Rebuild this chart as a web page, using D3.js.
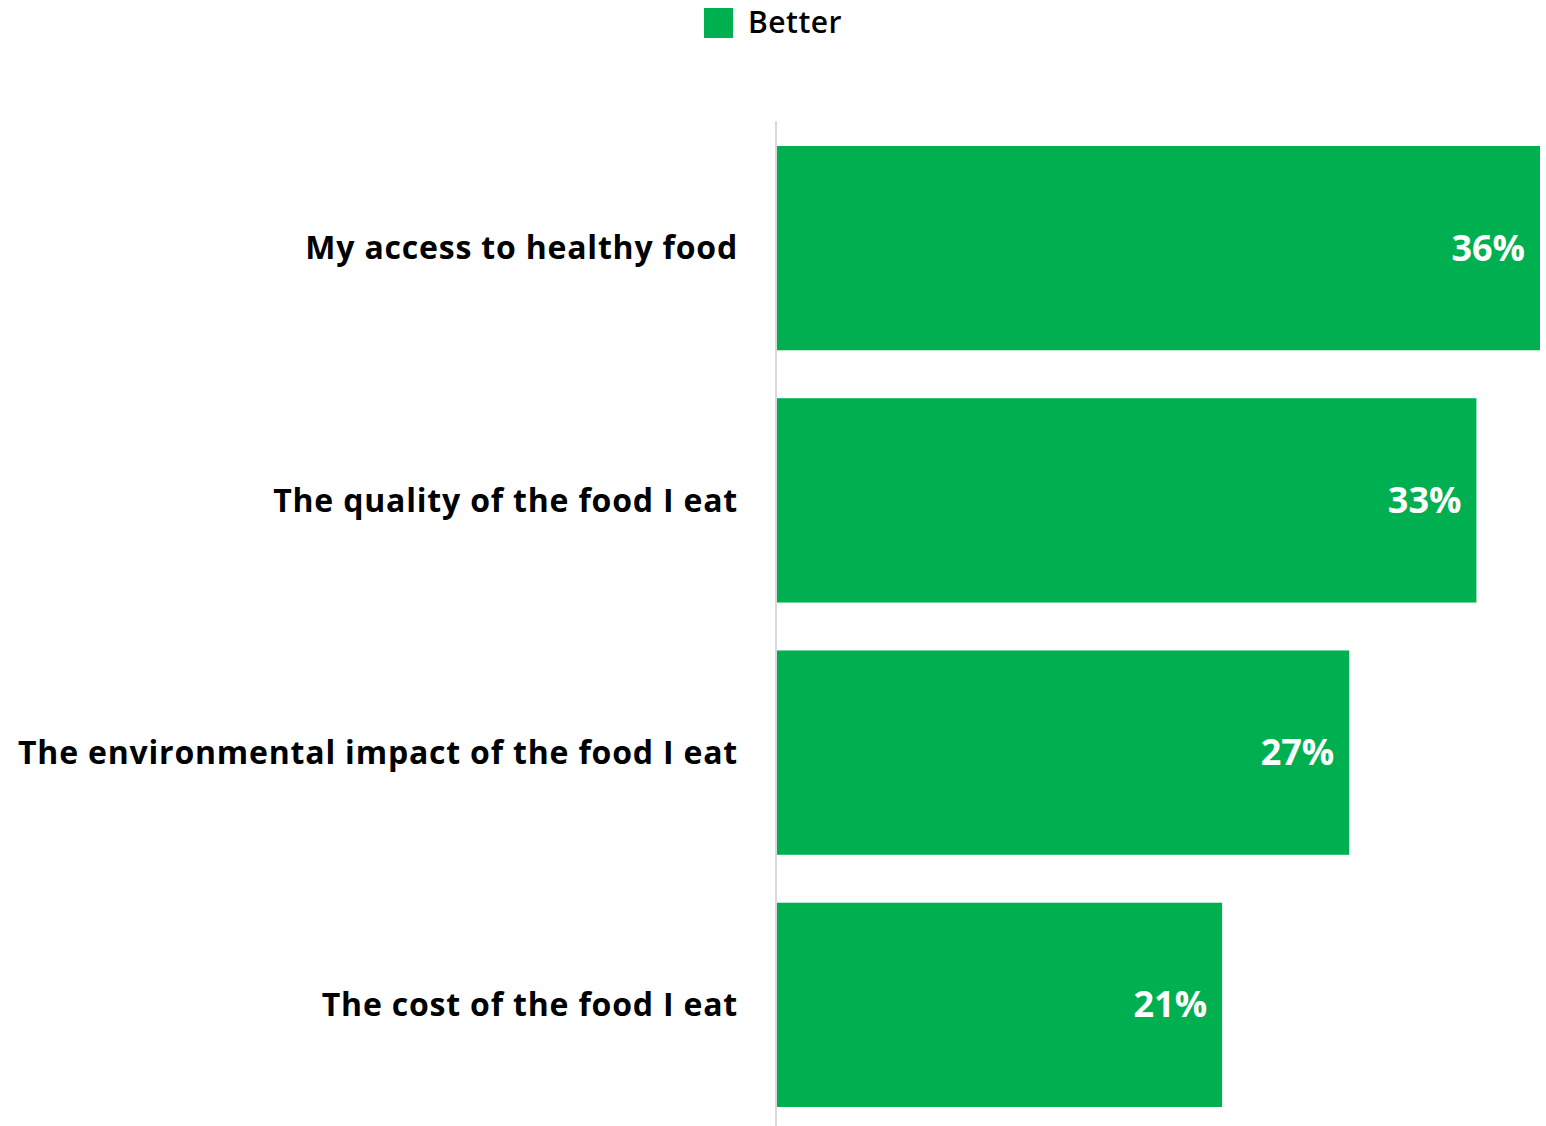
<!DOCTYPE html>
<html>
<head>
<meta charset="utf-8">
<script src="https://cdn.jsdelivr.net/npm/d3@7"></script>
<style>
  body { margin: 0; background: #fff; }
  svg { display: block; font-family: "Segoe UI", "Open Sans", "Noto Sans", sans-serif; }
</style>
</head>
<body>
<svg id="chart" width="1546" height="1126"></svg>
<script>
var categories = [
  'My access to healthy food',
  'The quality of the food I eat',
  'The environmental impact of the food I eat',
  'The cost of the food I eat'
];
var better = [36, 33, 27, 21];
var seriesName = 'Better';
var color = '#00B050';

var svg = d3.select('#chart');

var x = d3.scaleLinear()
  .domain([0, 36])
  .range([777, 1540]);

var y = d3.scaleBand()
  .domain(categories)
  .range([122, 1131])
  .paddingInner(0.19)
  .paddingOuter(0.095);

// axis line
svg.append('line')
  .attr('x1', 776).attr('x2', 776)
  .attr('y1', 121).attr('y2', 1126)
  .attr('stroke', '#d9d9d9')
  .attr('stroke-width', 2);

var data = categories.map(function(c, i) {
  return {cat: c, val: better[i]};
});

svg.selectAll('rect.bar')
  .data(data)
  .join('rect')
  .attr('class', 'bar')
  .attr('x', x(0))
  .attr('y', function(d) { return y(d.cat); })
  .attr('width', function(d) { return x(d.val) - x(0); })
  .attr('height', y.bandwidth())
  .attr('fill', color);

// category labels
svg.selectAll('text.cat')
  .data(data)
  .join('text')
  .attr('class', 'cat')
  .attr('x', 738)
  .attr('y', function(d) { return y(d.cat) + y.bandwidth() / 2; })
  .attr('dy', '0.35em')
  .attr('text-anchor', 'end')
  .attr('font-size', 32)
  .attr('font-weight', 'bold')
  .attr('letter-spacing', 0.8)
  .attr('fill', '#000')
  .text(function(d) { return d.cat; });

// value labels
svg.selectAll('text.val')
  .data(data)
  .join('text')
  .attr('class', 'val')
  .attr('x', function(d) { return x(d.val) - 15; })
  .attr('y', function(d) { return y(d.cat) + y.bandwidth() / 2; })
  .attr('dy', '0.35em')
  .attr('text-anchor', 'end')
  .attr('font-size', 36)
  .attr('font-weight', 'bold')
  .attr('fill', '#fff')
  .text(function(d) { return d.val + '%'; });

// legend
var legend = svg.append('g');
legend.append('rect')
  .attr('x', 704).attr('y', 8)
  .attr('width', 29).attr('height', 30)
  .attr('fill', color);
legend.append('text')
  .attr('x', 748).attr('y', 22)
  .attr('dy', '0.35em')
  .attr('font-size', 30)
  .attr('font-weight', 600)
  .attr('letter-spacing', 0.5)
  .attr('fill', '#000')
  .text(seriesName);
</script>
</body>
</html>
